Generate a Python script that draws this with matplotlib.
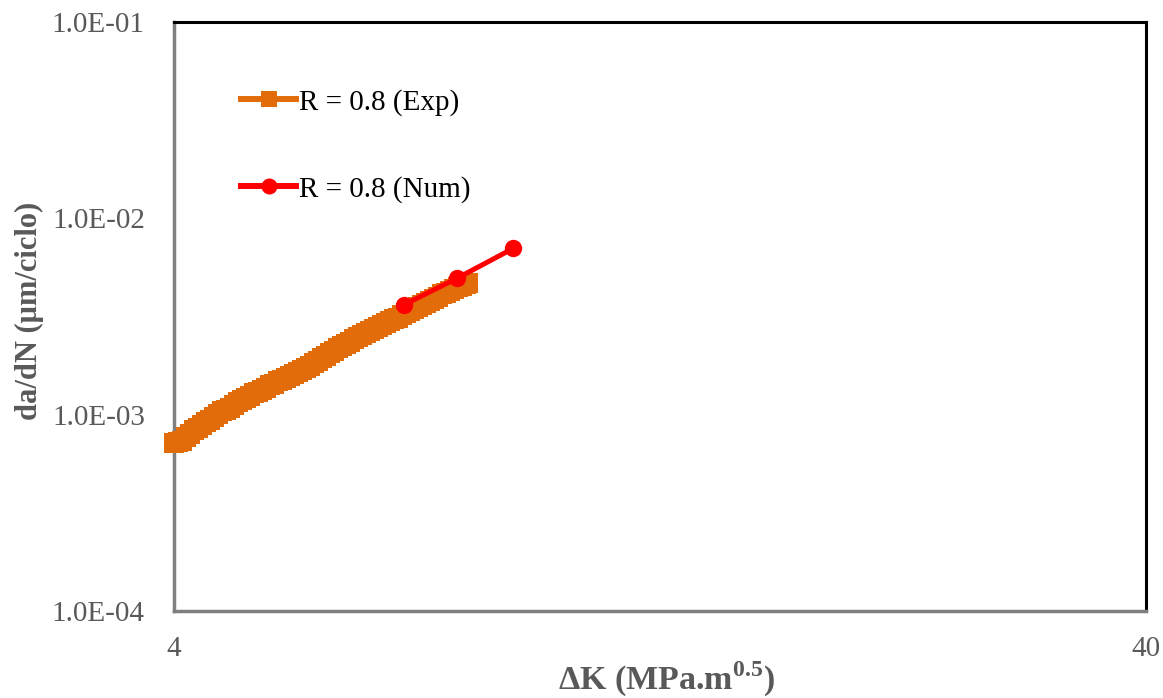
import matplotlib
matplotlib.use("Agg")
import matplotlib.pyplot as plt
from matplotlib.lines import Line2D

plt.rcParams['font.family'] = ['Liberation Serif', 'DejaVu Serif']
plt.rcParams['mathtext.fontset'] = 'custom'
plt.rcParams['mathtext.rm'] = 'Liberation Serif'
plt.rcParams['mathtext.bf'] = 'Liberation Serif:bold'

# Experimental crack growth rate, R = 0.8 (ΔK in MPa.m^0.5, da/dN in µm/ciclo)
dk_exp = [4.000, 4.038, 4.077, 4.115, 4.155, 4.194, 4.234, 4.274, 4.315,
          4.356, 4.398, 4.439, 4.482, 4.524, 4.567, 4.611, 4.655, 4.699,
          4.744, 4.789, 4.835, 4.881, 4.927, 4.974, 5.021, 5.069, 5.118,
          5.166, 5.215, 5.265, 5.315, 5.366, 5.417, 5.468, 5.521, 5.573,
          5.626, 5.680, 5.734, 5.788, 5.844, 5.899, 5.955, 6.012, 6.069,
          6.127, 6.185, 6.244, 6.304, 6.364, 6.424, 6.486, 6.547, 6.610,
          6.672, 6.736, 6.800, 6.865, 6.930, 6.996, 7.063, 7.130, 7.198,
          7.267, 7.336, 7.406, 7.476, 7.547, 7.619, 7.692, 7.765, 7.839,
          7.913, 7.989, 8.027]
dadn_exp = [7.17e-4, 7.26e-4, 7.34e-4, 7.66e-4, 8.00e-4, 8.33e-4, 8.58e-4,
            8.86e-4, 9.15e-4, 9.43e-4, 9.78e-4, 1.010e-3, 1.040e-3, 1.058e-3,
            1.080e-3, 1.115e-3, 1.155e-3, 1.193e-3, 1.223e-3, 1.252e-3,
            1.282e-3, 1.312e-3, 1.343e-3, 1.375e-3, 1.408e-3, 1.441e-3,
            1.476e-3, 1.509e-3, 1.545e-3, 1.579e-3, 1.615e-3, 1.653e-3,
            1.690e-3, 1.730e-3, 1.769e-3, 1.824e-3, 1.881e-3, 1.940e-3,
            2.000e-3, 2.061e-3, 2.118e-3, 2.173e-3, 2.232e-3, 2.288e-3,
            2.353e-3, 2.417e-3, 2.484e-3, 2.546e-3, 2.603e-3, 2.665e-3,
            2.724e-3, 2.789e-3, 2.852e-3, 2.916e-3, 2.986e-3, 3.053e-3,
            3.125e-3, 3.203e-3, 3.283e-3, 3.365e-3, 3.449e-3, 3.535e-3,
            3.621e-3, 3.710e-3, 3.802e-3, 3.897e-3, 3.994e-3, 4.094e-3,
            4.181e-3, 4.271e-3, 4.357e-3, 4.450e-3, 4.545e-3, 4.637e-3,
            4.686e-3]

# Numerical prediction, R = 0.8
dk_num = [6.89, 7.82, 8.94]
dadn_num = [3.62e-3, 4.95e-3, 7.04e-3]

series_labels = ['R = 0.8 (Exp)', 'R = 0.8 (Num)']
x_ticks = [4, 40]
x_tick_labels = ['4', '40']
y_ticks = [1e-4, 1e-3, 1e-2, 1e-1]
y_tick_labels = ['1.0E-04', '1.0E-03', '1.0E-02', '1.0E-01']

W, H = 1163, 698
fig = plt.figure(figsize=(W / 100, H / 100), dpi=100)
ax = fig.add_axes([174 / W, 1 - 611 / H, (1146 - 174) / W, (611 - 22) / H])

orange = '#E36C0A'
red = '#FF0000'
grey = '#595959'

ax.plot(dk_exp, dadn_exp, color=orange, lw=4, marker='s', ms=14.4, mew=0,
        mfc=orange, clip_on=False, zorder=3)
ax.plot(dk_num, dadn_num, color=red, lw=3.6, marker='o', ms=12.5, mew=0,
        mfc=red, clip_on=False, zorder=4)

ax.set_xscale('log')
ax.set_yscale('log')
ax.set_xlim(4, 40)
ax.set_ylim(1e-4, 1e-1)
ax.set_xticks(x_ticks)
ax.set_xticklabels(x_tick_labels)
ax.set_yticks(y_ticks)
ax.set_yticklabels(y_tick_labels)
ax.minorticks_off()
ax.tick_params(axis='both', length=0, labelsize=21, labelcolor=grey)
ax.tick_params(axis='x', pad=18)
ax.tick_params(axis='y', pad=21)

for side in ('top', 'right'):
    ax.spines[side].set_color('black')
    ax.spines[side].set_linewidth(2.2)
for side in ('left', 'bottom'):
    ax.spines[side].set_color('#7f7f7f')
    ax.spines[side].set_linewidth(2.5)

fig.text(667 / W, 1 - 690 / H, 'ΔK (MPa.m$^{\\mathbf{0.5}}$)', fontsize=24.5,
         fontweight='bold', color=grey, ha='center', va='baseline')
fig.text(37 / W, 1 - 311 / H, 'da/dN (μm/ciclo)', fontsize=22,
         fontweight='bold', color=grey, rotation=90, rotation_mode='anchor',
         ha='center', va='baseline')

handles = [
    Line2D([], [], color=orange, lw=4.3, marker='s', ms=11.5, mew=0),
    Line2D([], [], color=red, lw=4.3, marker='o', ms=11.5, mew=0),
]
ax.legend(handles, series_labels, loc='upper left',
          bbox_to_anchor=(241 / W, 1 - 89 / H), bbox_transform=fig.transFigure,
          frameon=False, fontsize=21, borderpad=0, handlelength=1.9,
          handletextpad=0.1, labelspacing=2.05, borderaxespad=0)

fig.savefig('out.png', dpi=100)
